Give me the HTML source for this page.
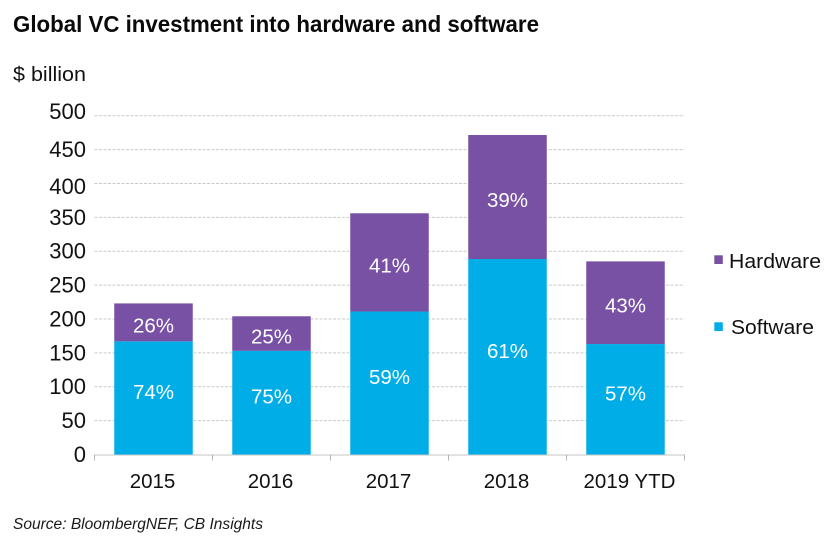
<!DOCTYPE html>
<html lang="en">
<head>
<meta charset="utf-8">
<title>Global VC investment into hardware and software</title>
<style>
html,body{margin:0;padding:0;background:#fff;}
svg{display:block;font-family:"Liberation Sans",sans-serif;}
</style>
</head>
<body>
<svg id="chart" xmlns="http://www.w3.org/2000/svg" width="832" height="543" viewBox="0 0 832 543">
<rect width="832" height="543" fill="#ffffff"/>
<text x="13" y="32" font-size="23" font-weight="700" fill="#0a0a0a" textLength="526" lengthAdjust="spacingAndGlyphs">Global VC investment into hardware and software</text>
<text x="13" y="81" font-size="20.5" fill="#111111" textLength="73" lengthAdjust="spacingAndGlyphs">$ billion</text>
<g id="grid"></g>
<g id="bars"></g>
<g id="axis"></g>
<g>
<rect x="714.3" y="255.3" width="8.5" height="8.7" fill="#7851a4"/>
<text x="729" y="268" font-size="20.5" fill="#111111" textLength="92" lengthAdjust="spacingAndGlyphs">Hardware</text>
<rect x="714.3" y="322.3" width="8.5" height="8.7" fill="#00ade6"/>
<text x="731" y="334" font-size="20.5" fill="#111111" textLength="83" lengthAdjust="spacingAndGlyphs">Software</text>
</g>
<text x="13" y="529" font-size="15.5" font-style="italic" fill="#1a1a1a" textLength="250" lengthAdjust="spacingAndGlyphs">Source: BloombergNEF, CB Insights</text>
</svg>
<script>
const categories = ["2015", "2016", "2017", "2018", "2019 YTD"];
const softwareValues = [167, 153, 211, 288.5, 163];
const hardwareValues = [56, 51, 145, 183, 122];
const softwareLabels = ["74%", "75%", "59%", "61%", "57%"];
const hardwareLabels = ["26%", "25%", "41%", "39%", "43%"];
const yTicks = [0, 50, 100, 150, 200, 250, 300, 350, 400, 450, 500];

const NS = "http://www.w3.org/2000/svg";
const plotLeft = 94.5, plotRight = 684.5, baseY = 454.5, pxPerUnit = 0.6776, barWidth = 78.5;
const softwareLabelOffset = 1, hardwareLabelOffset = 10;
const bandWidth = (plotRight - plotLeft) / categories.length;
function yScale(v) { return baseY - v * pxPerUnit; }
function xCenter(i) { return plotLeft + bandWidth * (i + 0.5); }
function yTickNudge(t) { return t === 500 ? -4 : t === 400 ? 3 : 0; }
function xLabelNudge(i) { return i === categories.length - 1 ? 4 : -1; }
function make(tag, attrs, parent, text) {
  const el = document.createElementNS(NS, tag);
  for (const k in attrs) el.setAttribute(k, attrs[k]);
  if (text !== undefined) el.textContent = text;
  parent.appendChild(el);
  return el;
}
const gridG = document.getElementById("grid");
const barsG = document.getElementById("bars");
const axisG = document.getElementById("axis");

yTicks.forEach(function (t) {
  const y = yScale(t);
  if (t !== 0) {
    const line = make("line", {x1: plotLeft, x2: plotRight, y1: y, y2: y, stroke: "#cacaca", "stroke-width": 1, "stroke-dasharray": "3 1.5"}, gridG);
    
    
  }
  const label = make("text", {x: 86, y: y + 7.5 + yTickNudge(t), "text-anchor": "end", "font-size": 22, fill: "#111111"}, axisG, String(t));
  
  
});

categories.forEach(function (c, i) {
  const x = xCenter(i) - barWidth / 2;
  const sw = softwareValues[i], hw = hardwareValues[i];
  const swRect = make("rect", {x: x, y: yScale(sw), width: barWidth, height: baseY - yScale(sw), fill: "#00ade6"}, barsG);
  
  
  const hwRect = make("rect", {x: x, y: yScale(sw + hw), width: barWidth, height: yScale(sw) - yScale(sw + hw), fill: "#7851a4"}, barsG);
  
  
  const swText = make("text", {x: xCenter(i), y: yScale(sw / 2) + softwareLabelOffset, "text-anchor": "middle", "font-size": 20.5, fill: "#ffffff"}, barsG, softwareLabels[i]);
  
  
  const hwText = make("text", {x: xCenter(i), y: yScale(sw + hw / 2) + hardwareLabelOffset, "text-anchor": "middle", "font-size": 20.5, fill: "#ffffff"}, barsG, hardwareLabels[i]);
  
  
  const xLabel = make("text", {x: xCenter(i) + xLabelNudge(i), y: 488, "text-anchor": "middle", "font-size": 20.5, fill: "#111111"}, axisG, c);
  
  
});

const axisLine = make("line", {x1: plotLeft, x2: plotRight, y1: baseY + 0.5, y2: baseY + 0.5, stroke: "#c4c4c4", "stroke-width": 1}, axisG);


for (let i = 0; i <= categories.length; i++) {
  const tx = plotLeft + bandWidth * i;
  const tick = make("line", {x1: tx, x2: tx, y1: baseY, y2: baseY + 6, stroke: "#b4b4b4", "stroke-width": 1}, axisG);
  
  
}
</script>
</body>
</html>
